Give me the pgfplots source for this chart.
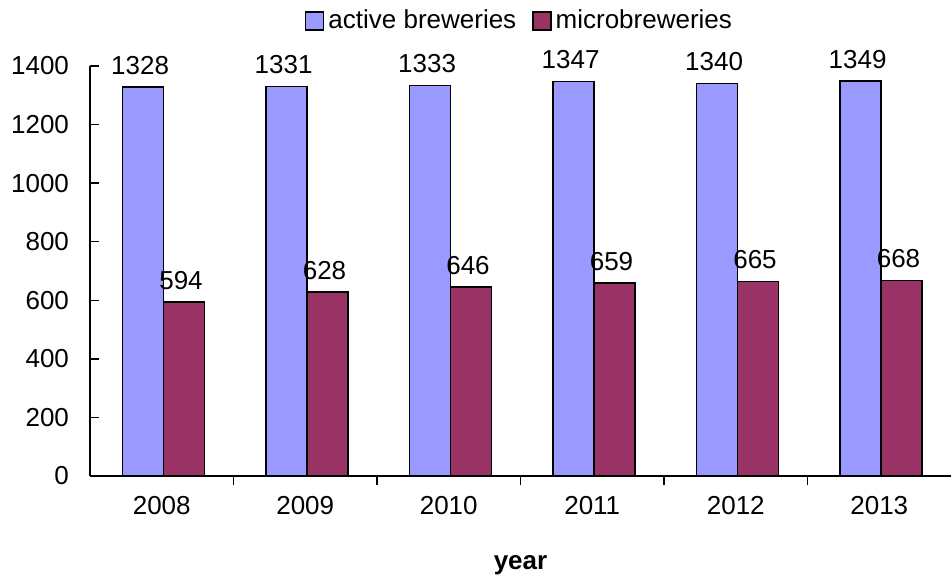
\documentclass[border=0pt]{standalone}
\usepackage{pgfplots}
\pgfplotsset{compat=1.18}
\usepackage{fontspec}
\setmainfont{Liberation Sans}
\definecolor{cblue}{HTML}{9999FF}
\definecolor{cred}{HTML}{993366}
\begin{document}
\begin{tikzpicture}
\path[use as bounding box] (-45pt,-50.5pt) rectangle (430.5pt,238pt);
\begin{axis}[
  at={(0,0)}, anchor=south west,
  scale only axis,
  width=430.5pt, height=205pt,
  xmin=-0.5, xmax=5.5,
  ymin=0, ymax=1400,
  axis x line=bottom, axis y line=left,
  axis line style={-, black, line width=0.7pt},
  /pgf/number format/assume math mode=true,
  /pgf/number format/1000 sep={},
  font=\fontsize{13}{15}\selectfont,
  ytick={0,200,...,1400},
  tick align=inside,
  major tick length=4.5pt,
  tick style={black, line width=0.7pt},
  yticklabel style={xshift=-7pt},
  xtick={0.5,1.5,2.5,3.5,4.5},
  xticklabels={},
  extra x ticks={0,1,2,3,4,5},
  extra x tick labels={2008,2009,2010,2011,2012,2013},
  extra x tick style={major tick length=0pt, xticklabel style={yshift=-6.5pt}},
  xlabel={\bfseries year},
  xlabel style={at={(axis description cs:0.5,0)}, anchor=center, yshift=-44.5pt},
  ybar=0pt,
  bar width=0.2857,
  nodes near coords,
  nodes near coords style={font=\fontsize{13}{15}\selectfont, anchor=south, yshift=2.5pt, xshift=-1.5pt},
  legend style={at={(0.5,1)}, anchor=center, yshift=22.5pt, draw=none, fill=none,
    legend columns=2, font=\fontsize{13}{15}\selectfont,
    /tikz/every even column/.append style={column sep=6pt},
    inner sep=0pt},
  legend cell align=left,
  legend image code/.code={\draw[#1,draw=black,line width=0.7pt] (0pt,-4.5pt) rectangle (9pt,4.5pt);},
]
\addplot[fill=cblue, draw=black, line width=0.7pt, bar shift=-0.13] coordinates {(0,1328) (1,1331) (2,1333) (3,1347) (4,1340) (5,1349)};
\addplot[fill=cred, draw=black, line width=0.7pt, bar shift=0.155] coordinates {(0,594) (1,628) (2,646) (3,659) (4,665) (5,668)};
\legend{active breweries, microbreweries}
\end{axis}
\end{tikzpicture}
\end{document}
